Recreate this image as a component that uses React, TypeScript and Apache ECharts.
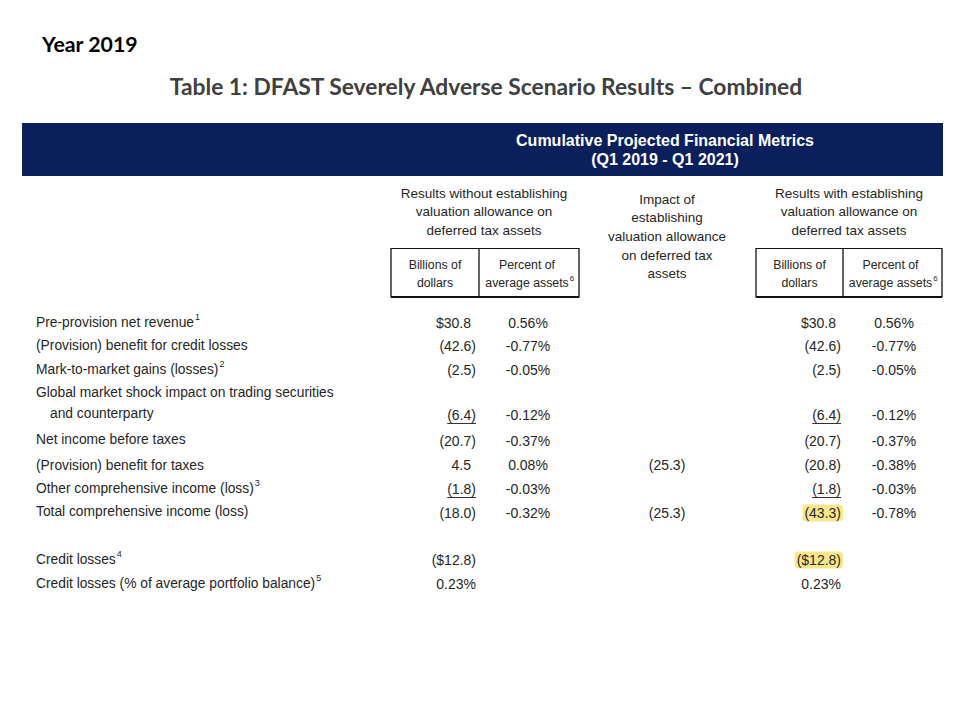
import React, { useEffect, useRef } from 'react';
import * as echarts from 'echarts';

// ---------- data ----------
const yearLabel = 'Year 2019';
const tableTitle = 'Table 1: DFAST Severely Adverse Scenario Results \u2013 Combined';
const bannerLines = ['Cumulative Projected Financial Metrics', '(Q1 2019 - Q1 2021)'];
const withoutHeader = ['Results without establishing', 'valuation allowance on', 'deferred tax assets'];
const impactHeader = ['Impact of', 'establishing', 'valuation allowance', 'on deferred tax', 'assets'];
const withHeader = ['Results with establishing', 'valuation allowance on', 'deferred tax assets'];
const billionsHeader = ['Billions of', 'dollars'];
const percentHeader = ['Percent of', 'average assets'];
const percentHeaderNote = '6';

const rowLabels = [
  ['Pre-provision net revenue'],
  ['(Provision) benefit for credit losses'],
  ['Mark-to-market gains (losses)'],
  ['Global market shock impact on trading securities', 'and counterparty'],
  ['Net income before taxes'],
  ['(Provision) benefit for taxes'],
  ['Other comprehensive income (loss)'],
  ['Total comprehensive income (loss)'],
  ['Credit losses'],
  ['Credit losses (% of average portfolio balance)'],
];
const rowNotes = ['1', '', '2', '', '', '', '3', '', '4', '5'];
const billionsWithout = ['$30.8', '(42.6)', '(2.5)', '(6.4)', '(20.7)', '4.5', '(1.8)', '(18.0)', '($12.8)', '0.23%'];
const percentWithout = ['0.56%', '-0.77%', '-0.05%', '-0.12%', '-0.37%', '0.08%', '-0.03%', '-0.32%', '', ''];
const impactValues = ['', '', '', '', '', '(25.3)', '', '(25.3)', '', ''];
const billionsWith = ['$30.8', '(42.6)', '(2.5)', '(6.4)', '(20.7)', '(20.8)', '(1.8)', '(43.3)', '($12.8)', '0.23%'];
const percentWith = ['0.56%', '-0.77%', '-0.05%', '-0.12%', '-0.37%', '-0.38%', '-0.03%', '-0.78%', '', ''];
const underlinedRows = [3, 6];
const highlightedWithRows = [7, 8];

// ---------- layout ----------
const FONT = '"Liberation Sans", Arial, Helvetica, sans-serif';
const TITLE_FONT = 'Lato, "Open Sans", sans-serif';
const TXT = '#262626';
const NAVY = '#0b1f5c';
const labelY = [322, 345, 369, 392, 439, 465, 488, 511, 559, 583];
const valueY = [323, 346, 370, 415, 441, 465, 489, 513, 560, 584];
const secondLineGap = 21;

function measure(t: string, size: number, weight = 'normal', family = FONT) {
  const ctx = document.createElement('canvas').getContext('2d')!;
  ctx.font = `${weight} ${size}px ${family}`;
  return ctx.measureText(t).width;
}

function buildGraphic() {
  const els: any[] = [];
  const text = (
    x: number,
    y: number,
    t: string,
    o: { size?: number; weight?: string; fill?: string; align?: string; family?: string; bg?: string } = {}
  ) => {
    const style: any = {
      text: t,
      fill: o.fill || TXT,
      fontSize: o.size || 14,
      fontWeight: o.weight || 'normal',
      fontFamily: o.family || FONT,
      align: o.align || 'left',
      verticalAlign: 'middle',
      textAlign: o.align || 'left',
      textVerticalAlign: 'middle',
    };
    if (o.bg) {
      style.backgroundColor = o.bg;
      style.padding = [2, 2, 1, 2];
      style.borderRadius = 4;
    }
    els.push({ type: 'text', x, y, silent: true, style });
  };
  const line = (x1: number, y1: number, x2: number, y2: number, w = 1.2, c = '#111') =>
    els.push({ type: 'line', silent: true, shape: { x1, y1, x2, y2 }, style: { stroke: c, lineWidth: w } });

  // titles
  text(42, 44, yearLabel, { size: 21.3, weight: 'bold', fill: '#000', family: TITLE_FONT });
  text(486, 86, tableTitle, { size: 22.8, weight: 'bold', fill: '#404040', family: TITLE_FONT, align: 'center' });

  // banner
  els.push({ type: 'rect', silent: true, shape: { x: 22, y: 123, width: 921, height: 53 }, style: { fill: NAVY } });
  bannerLines.forEach((t, i) => text(665, 140 + i * 19, t, { size: 16, weight: 'bold', fill: '#fff', align: 'center' }));

  // group headers
  withoutHeader.forEach((t, i) => text(484, 193 + i * 18.5, t, { size: 13.5, align: 'center' }));
  withHeader.forEach((t, i) => text(849, 193 + i * 18.5, t, { size: 13.5, align: 'center' }));
  impactHeader.forEach((t, i) => text(667, 199 + i * 18.7, t, { size: 13.5, align: 'center' }));

  // boxed sub headers
  const boxes = [
    { x0: 391, xm: 479, x1: 579 },
    { x0: 756, xm: 843, x1: 942 },
  ];
  boxes.forEach((b) => {
    line(b.x0, 248.5, b.x1, 248.5, 1.2);
    line(b.x0, 297, b.x1, 297, 1.8);
    line(b.x0, 248, b.x0, 297.5, 1.3);
    line(b.xm, 248, b.xm, 297.5, 1.3);
    line(b.x1, 248, b.x1, 297.5, 1.3);
    const cb = (b.x0 + b.xm) / 2;
    const cp = (b.xm + b.x1) / 2;
    billionsHeader.forEach((t, i) => text(cb, 265 + i * 17.5, t, { size: 12.3, align: 'center' }));
    percentHeader.forEach((t, i) => text(cp - 2, 265 + i * 18, t, { size: 12.3, align: 'center' }));
    const w = measure(percentHeader[1], 12.3);
    text(cp - 2 + w / 2 + 1, 278, percentHeaderNote, { size: 8 });
  });

  // row labels
  rowLabels.forEach((lines, r) => {
    lines.forEach((t, j) => text(j === 0 ? 36 : 50, labelY[r] + j * secondLineGap, t, { size: 13.8 }));
    if (rowNotes[r]) {
      const last = lines[lines.length - 1];
      const w = measure(last, 13.8);
      text(36 + w + 1, labelY[r] - 5, rowNotes[r], { size: 9 });
    }
  });

  // numeric columns
  const billionsCol = (vals: string[], right: number, highlight: number[]) => {
    vals.forEach((v, r) => {
      if (!v) return;
      const closes = v.endsWith(')') || v.endsWith('%');
      const x = closes ? right : right - 5;
      const hl = highlight.includes(r);
      text(hl ? x + 2 : x, valueY[r], v, { size: 14, align: 'right', bg: hl ? '#fce68c' : undefined });
      if (underlinedRows.includes(r)) {
        const w = measure(v, 14);
        line(x - w, valueY[r] + 8.5, x, valueY[r] + 8.5, 1, '#333');
      }
    });
  };
  billionsCol(billionsWithout, 476, []);
  billionsCol(billionsWith, 841, highlightedWithRows);

  const centerCol = (vals: string[], cx: number) =>
    vals.forEach((v, r) => v && text(cx, valueY[r], v, { size: 14, align: 'center' }));
  centerCol(percentWithout, 528);
  centerCol(percentWith, 894);
  centerCol(impactValues, 667);

  return els;
}

export default function App() {
  const ref = useRef<HTMLDivElement>(null);
  useEffect(() => {
    document.body.style.margin = '0';
    const chart = echarts.init(ref.current!, null, { renderer: 'svg', width: 960, height: 720 });
    chart.setOption({
      animation: false,
      backgroundColor: '#ffffff',
      graphic: buildGraphic(),
    });
    return () => chart.dispose();
  }, []);
  return <div ref={ref} style={{ position: 'absolute', left: 0, top: 0, width: 960, height: 720 }} />;
}
